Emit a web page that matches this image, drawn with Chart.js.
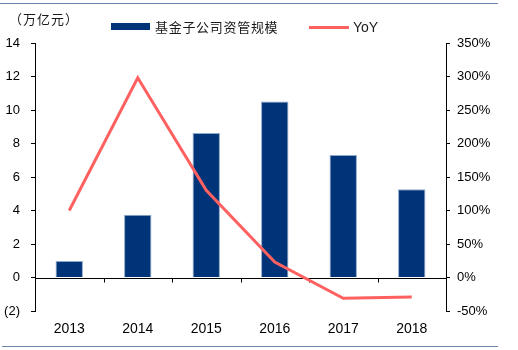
<!DOCTYPE html>
<html>
<head>
<meta charset="utf-8">
<script src="https://cdn.jsdelivr.net/npm/chart.js@4"></script>
<style>
  html, body { margin: 0; padding: 0; background: #fff; }
  #wrap { position: relative; width: 518px; height: 350px; overflow: hidden; }
  #c { position: absolute; left: 0; top: 0; }
  .rule { position: absolute; height: 1px; background: #6d86ad; }
  .txt { position: absolute; white-space: nowrap; color: #1a1a1a; }
</style>
</head>
<body>
<div id="wrap">
  <canvas id="c" width="518" height="350"></canvas>
  <div class="rule" style="left:0; top:3px; width:498px;"></div>
  <div class="rule" style="left:2px; top:346px; width:496px;"></div>
  <div class="txt" id="unit" style="left:9px; top:10px; font: 13px 'Noto Sans CJK SC'; letter-spacing:1px; line-height:18px;"></div>
  <div id="legend"></div>
</div>
<script>
// ---- data ----
const categories = ['2013', '2014', '2015', '2016', '2017', '2018'];
const aumValues = [0.98, 3.75, 8.62, 10.51, 7.32, 5.27];     // 万亿元
const yoyValues = [100, 298, 130, 23, -31, -29];             // %
const seriesNames = ['基金子公司资管规模', 'YoY'];
const unitLabel = '（万亿元）';
const leftTicks = [-2, 0, 2, 4, 6, 8, 10, 12, 14];
const rightTicks = [-50, 0, 50, 100, 150, 200, 250, 300, 350];

const barColor = '#003479';
const lineColor = '#ff6161';

document.getElementById('unit').textContent = unitLabel;

// HTML legend
const lg = document.getElementById('legend');
lg.innerHTML =
  '<div style="position:absolute;left:111px;top:23px;width:39px;height:7px;background:' + barColor + '"></div>' +
  '<div class="txt" style="left:155px;top:18px;font:13px \'Noto Sans CJK SC\';letter-spacing:0.7px;line-height:18px;">' + seriesNames[0] + '</div>' +
  '<div style="position:absolute;left:309px;top:25.5px;width:40px;height:3px;background:' + lineColor + '"></div>' +
  '<div class="txt" style="left:353px;top:18px;font:14px \'Liberation Sans\';line-height:18px;">' + seriesNames[1] + '</div>';

// zero line with category tick marks
const zeroAxis = {
  id: 'zeroAxis',
  beforeDatasetsDraw(chart) {
    const { ctx, chartArea, scales } = chart;
    const y0 = Math.round(scales.y.getPixelForValue(0)) + 0.5;
    ctx.save();
    ctx.strokeStyle = '#000';
    ctx.lineWidth = 1;
    ctx.beginPath();
    ctx.moveTo(chartArea.left, y0);
    ctx.lineTo(chartArea.right, y0);
    const n = categories.length;
    for (let i = 1; i < n; i++) {
      const x = Math.round((scales.x.getPixelForValue(i - 1) + scales.x.getPixelForValue(i)) / 2) + 0.5;
      ctx.moveTo(x, y0);
      ctx.lineTo(x, y0 + 4);
    }
    ctx.stroke();
    ctx.restore();
  }
};

const tickFont = { family: 'Liberation Sans', size: 13 };

new Chart(document.getElementById('c'), {
  data: {
    labels: categories,
    datasets: [
      {
        type: 'line',
        label: seriesNames[1],
        data: yoyValues,
        yAxisID: 'y1',
        borderColor: lineColor,
        backgroundColor: lineColor,
        borderWidth: 3,
        pointRadius: 0,
        tension: 0,
        order: 0
      },
      {
        type: 'bar',
        label: seriesNames[0],
        data: aumValues,
        yAxisID: 'y',
        backgroundColor: barColor,
        borderColor: '#8fa9cc',
        borderWidth: 1,
        barPercentage: 0.4,
        categoryPercentage: 1,
        order: 1
      }
    ]
  },
  options: {
    responsive: false,
    animation: false,
    devicePixelRatio: 1,
    layout: { padding: { top: 43, bottom: 0, left: 0, right: 0 } },
    plugins: { legend: { display: false }, tooltip: { enabled: false } },
    scales: {
      x: {
        position: 'bottom',
        grid: { display: false, drawTicks: false },
        border: { display: false },
        ticks: { color: '#000', font: { family: 'Liberation Sans', size: 14 }, padding: 10, maxRotation: 0 },
        afterFit(s) { s.height = 39; }
      },
      y: {
        position: 'left',
        min: -2, max: 14,
        afterBuildTicks(s) { s.ticks = leftTicks.map(v => ({ value: v })); },
        grid: { drawOnChartArea: false, drawTicks: true, tickLength: 4, color: '#000' },
        border: { display: true, color: '#000', width: 1 },
        ticks: {
          color: '#000', font: tickFont, padding: 11,
          callback: v => v < 0 ? '(' + (-v) + ')' : String(v)
        },
        afterFit(s) { s.width = 35; }
      },
      y1: {
        position: 'right',
        min: -50, max: 350,
        afterBuildTicks(s) { s.ticks = rightTicks.map(v => ({ value: v })); },
        grid: { drawOnChartArea: false, drawTicks: true, tickLength: 4, color: '#000' },
        border: { display: true, color: '#000', width: 1 },
        ticks: {
          color: '#000', font: tickFont, padding: 7,
          callback: v => v + '%'
        },
        afterFit(s) { s.width = 72; }
      }
    }
  },
  plugins: [zeroAxis]
});
</script>
</body>
</html>
